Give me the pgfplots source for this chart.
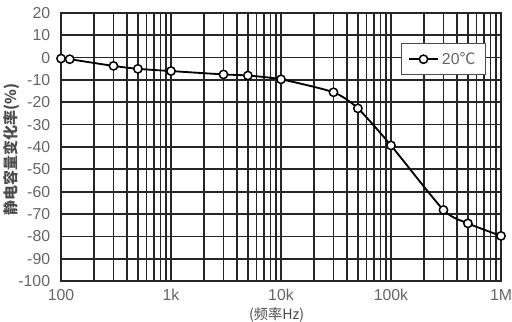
\documentclass[border=0pt]{standalone}
\usepackage{pgfplots}
\pgfplotsset{compat=1.18}
\usepackage{fontspec}
\setmainfont{Liberation Sans}
\newfontfamily\cjk{Noto Sans CJK SC}
\begin{document}
\begin{tikzpicture}
\begin{axis}[
 name=ax,
 xmode=log, log basis x=10,
 width=264pt, height=160.8pt, scale only axis,
 xmin=100, xmax=1000000, ymin=-100, ymax=20,
 xtick={100,1000,10000,100000,1000000},
 xticklabels={100,1k,10k,100k,1M},
 minor xtick={200,300,400,500,600,700,800,900,2000,3000,4000,5000,6000,7000,8000,9000,20000,30000,40000,50000,60000,70000,80000,90000,200000,300000,400000,500000,600000,700000,800000,900000},
 ytick={-100,-90,-80,-70,-60,-50,-40,-30,-20,-10,0,10,20},
 grid=both,
 major grid style={black!85, line width=1pt},
 minor grid style={black!85, line width=1pt},
 axis line style={black!85, line width=1pt},
 major tick length=0pt, minor tick length=0pt,
 tick label style={font=\fontsize{9.5}{11}\selectfont, text=black!60},
 xticklabel style={yshift=-1.5pt},
 yticklabel style={xshift=-3pt},
 /pgf/number format/assume math mode=true,
 ylabel={\cjk 静电容量变化率(\%)},
 ylabel style={at={(axis description cs:-0.113,0.49)}, anchor=center, font=\fontsize{9}{11}\selectfont\bfseries, text=black!70},
 xlabel={\cjk (频率Hz)},
 xlabel style={at={(axis description cs:0.49,-0.125)}, anchor=center, font=\fontsize{8.5}{10}\selectfont, text=black!70},
 legend style={at={(0.773,0.888)}, anchor=north west, draw=black!70, line width=0.7pt, fill=white, font=\fontsize{9.5}{11}\selectfont, text=black!60, inner xsep=4pt, inner ysep=3pt},
 legend cell align=left,
 clip=false,
]
\addplot[black, line width=1.1pt, smooth, tension=0.4, mark=*, mark size=2.5pt, mark options={fill=white, draw=black, line width=0.9pt}]
 coordinates {(100,-0.4)(120,-0.7)(300,-3.7)(500,-5)(1000,-6)(3000,-7.5)(5000,-8)(10000,-9.7)(30000,-15.5)(50000,-22.7)(100000,-39.3)(300000,-68.2)(500000,-74.2)(1000000,-79.8)};
\addlegendentry{20{\cjk ℃}}
\end{axis}
\pgfresetboundingbox
\path ([shift={(-36.6pt,-24pt)}]ax.south west) rectangle ([shift={(6.6pt,7.8pt)}]ax.north east);
\end{tikzpicture}
\end{document}
